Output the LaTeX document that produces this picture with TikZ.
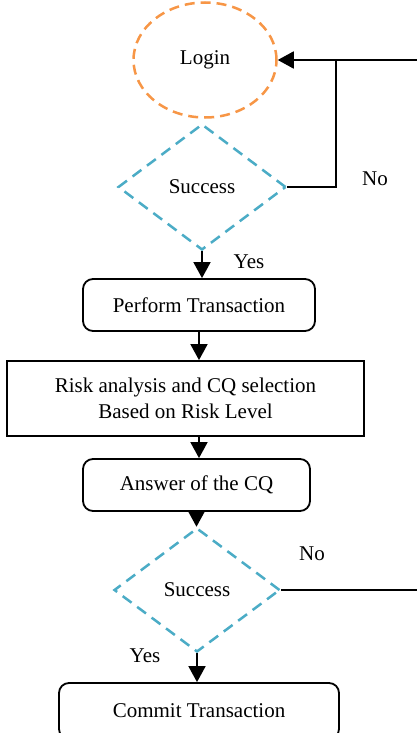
\documentclass[tikz,border=0pt]{standalone}
\usepackage{fontspec}
\setmainfont{Liberation Serif}
\usetikzlibrary{shapes.geometric,arrows.meta}
\definecolor{dorange}{HTML}{F79646}
\definecolor{dblue}{HTML}{4BACC6}
\begin{document}
\begin{tikzpicture}[x=1pt,y=-1pt,
  every node/.style={font=\fontsize{21}{26}\selectfont},
  line/.style={draw=black,line width=1.8pt},
  arr/.style={line, -{Triangle[length=16pt,width=17pt]}},
  rbox/.style={draw=black,line width=1.8pt,rounded corners=10pt,inner sep=0pt},
  sqbox/.style={draw=black,line width=1.8pt,inner sep=0pt,align=center},
  oval/.style={ellipse,draw=dorange,line width=2.5pt,dash pattern=on 10pt off 6pt,inner sep=0pt},
  decision/.style={diamond,draw=dblue,line width=2.5pt,dash pattern=on 11pt off 7pt,inner sep=0pt},
  lbl/.style={inner sep=0pt}]
\useasboundingbox (0,0) rectangle (417,733);
\fill[white] (0,0) rectangle (417,733);

\node[oval,minimum width=143pt,minimum height=115pt] (login) at (205,60) {Login};
\node[decision,minimum width=168pt,minimum height=126pt] (d1) at (202,187) {Success};
\node[rbox,minimum width=232pt,minimum height=52pt] (perform) at (199,305) {Perform Transaction};
\node[sqbox,minimum width=357pt,minimum height=75pt] (risk) at (185.5,398.5) {Risk analysis and CQ selection\\Based on Risk Level};
\node[rbox,minimum width=227pt,minimum height=52pt] (answer) at (196.5,485) {Answer of the CQ};
\node[decision,minimum width=166pt,minimum height=124pt] (d2) at (197,590) {Success};
\node[rbox,minimum width=280pt,minimum height=56pt] (commit) at (199,711) {Commit Transaction};

\coordinate (j) at (336,60);
\coordinate (r1) at (417,60);
\coordinate (r2) at (417,590);

\draw[arr] (d1.south) -- (d1.south |- perform.north);
\draw[arr] (perform.south) -- (perform.south |- risk.north);
\draw[arr] (perform.south |- risk.south) -- (perform.south |- answer.north);
\draw[arr] (answer.south) -- (answer.south |- d2.north);
\draw[arr] (d2.south) -- (d2.south |- commit.north);
\draw[line] (d1.east) -| (j);
\draw[arr] (r1) -- (login.east);
\draw[line] (d2.east) -- (r2);

\node[lbl] (no1) at (375,179) {No};
\node[lbl] (yes1) at (249,262) {Yes};
\node[lbl] (no2) at (312,554) {No};
\node[lbl] (yes2) at (145,656) {Yes};
\end{tikzpicture}
\end{document}
